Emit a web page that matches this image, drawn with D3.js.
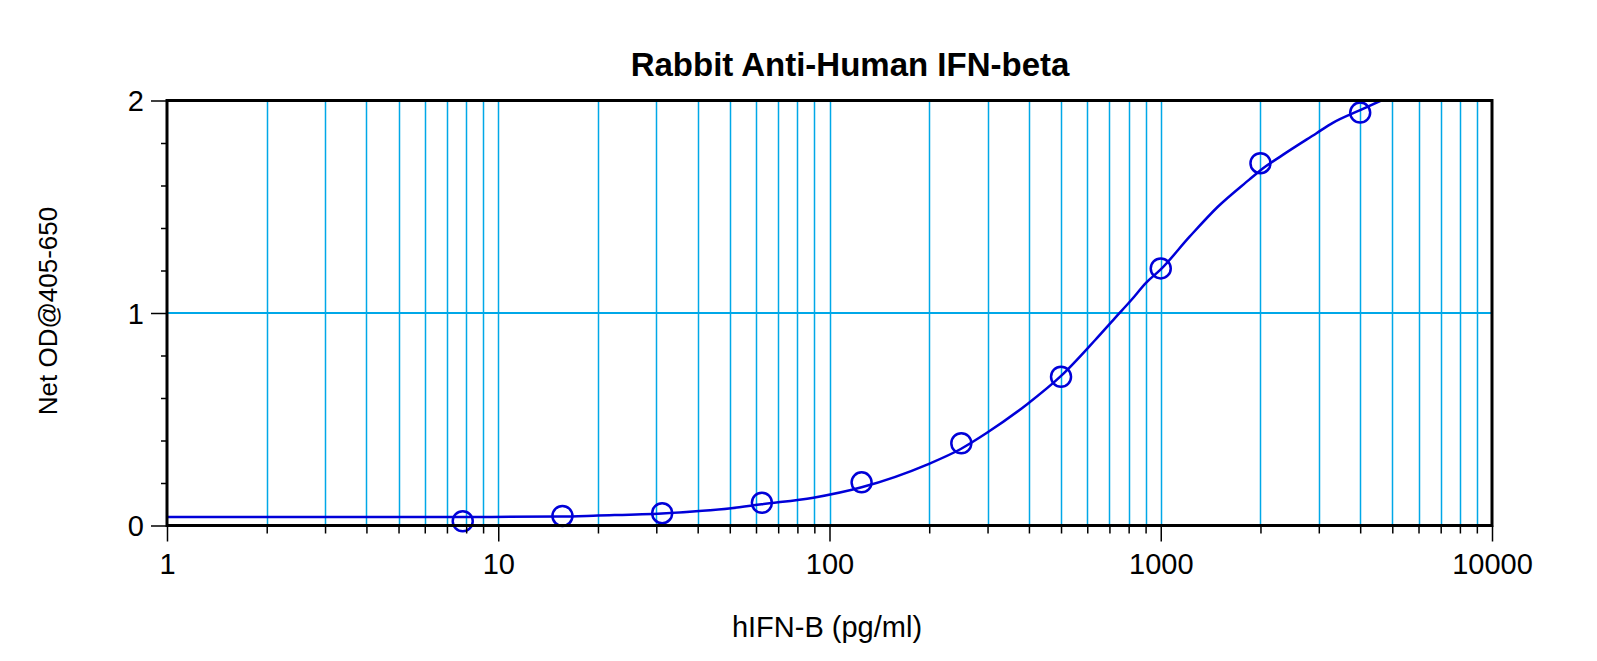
<!DOCTYPE html>
<html>
<head>
<meta charset="utf-8">
<script src="https://cdn.jsdelivr.net/npm/d3@7/dist/d3.min.js"></script>
<style>
  html, body { margin: 0; padding: 0; background: #fff; }
  svg { display: block; }
  text { font-family: "Liberation Sans", Arial, sans-serif; fill: #000; }
</style>
</head>
<body>
<svg id="chart" width="1597" height="661"></svg>
<script>
// ---- data ----
const chartTitle = "Rabbit Anti-Human IFN-beta";
const xTitle = "hIFN-B (pg/ml)";
const yTitle = "Net OD@405-650";

const concentrations = [7.8125, 15.625, 31.25, 62.5, 125, 250, 500, 1000, 2000, 4000];
const odValues       = [0.02,   0.045,  0.058, 0.107, 0.203, 0.387, 0.70, 1.21, 1.705, 1.943];

// fitted curve
const fitX = [1, 3, 7.8, 15.3, 20, 31.2, 50.5, 62.4, 89.4, 125, 198, 249, 298, 396, 501, 634, 726, 815, 904, 1000, 1222, 1487, 1854, 2000, 2336, 2946, 3307, 4000, 4627];
const fitY = [0.040, 0.040, 0.040, 0.042, 0.047, 0.057, 0.081, 0.100, 0.131, 0.180, 0.288, 0.360, 0.435, 0.572, 0.705, 0.873, 0.975, 1.061, 1.143, 1.205, 1.359, 1.50, 1.629, 1.672, 1.744, 1.845, 1.895, 1.955, 2.0];

const xTickValues = [1, 10, 100, 1000, 10000];
const xTickLabels = ["1", "10", "100", "1000", "10000"];
const yTickValues = [0, 1, 2];
const yTickLabels = ["0", "1", "2"];
const yMinorStep = 0.2;

// ---- layout ----
const plot = { left: 167, right: 1492, top: 100.5, bottom: 525.5 };
const gridColor = "#00a8e8";
const curveColor = "#0000d8";

const svg = d3.select("#chart");
const x = d3.scaleLog().domain([1, 10000]).range([plot.left, plot.right]);
const y = d3.scaleLinear().domain([0, 2]).range([plot.bottom, plot.top]);

// minor x values (2..9 per decade, plus decades inside)
const xMinor = [];
for (let d = 1; d < 10000; d *= 10) {
  for (let m = 1; m <= 9; m++) {
    const v = d * m;
    if (v > 1 && v < 10000) xMinor.push(v);
  }
}
const yMinor = d3.range(0, 2.0001, yMinorStep).filter(v => !yTickValues.some(t => Math.abs(t - v) < 1e-6));

// vertical gridlines
svg.append("g").selectAll("line").data(xMinor).join("line")
  .attr("x1", d => Math.round(x(d)) + 0.5).attr("x2", d => Math.round(x(d)) + 0.5)
  .attr("y1", plot.top).attr("y2", plot.bottom)
  .attr("stroke", gridColor).attr("stroke-width", 1.5);

// horizontal gridline at 1
svg.append("g").selectAll("line").data(yTickValues.filter(v => v > 0 && v < 2)).join("line")
  .attr("x1", plot.left).attr("x2", plot.right)
  .attr("y1", d => y(d)).attr("y2", d => y(d))
  .attr("stroke", gridColor).attr("stroke-width", 2);

// clip
svg.append("clipPath").attr("id", "clip").append("rect")
  .attr("x", plot.left).attr("y", plot.top)
  .attr("width", plot.right - plot.left).attr("height", plot.bottom - plot.top);

// fitted curve
const fitData = fitX.map((v, i) => [v, fitY[i]]);
svg.append("path").datum(fitData)
  .attr("clip-path", "url(#clip)")
  .attr("fill", "none").attr("stroke", curveColor).attr("stroke-width", 2.5)
  .attr("d", d3.line().x(d => x(d[0])).y(d => y(d[1])).curve(d3.curveMonotoneX));

// data circles
svg.append("g").selectAll("circle").data(concentrations).join("circle")
  .attr("cx", d => x(d)).attr("cy", (d, i) => y(odValues[i]))
  .attr("r", 10).attr("fill", "none")
  .attr("stroke", curveColor).attr("stroke-width", 2.5);

// ---- axes ----
const xAxisG = svg.append("g").attr("transform", `translate(0,${plot.bottom})`);
xAxisG.call(d3.axisBottom(x).tickValues(xTickValues).tickSize(16)
  .tickFormat((d, i) => xTickLabels[i]));
xAxisG.select(".domain").remove();
xAxisG.selectAll(".tick line").attr("stroke", "#000").attr("stroke-width", 1.5);
xAxisG.selectAll(".tick text").attr("font-size", 29).attr("dy", null).attr("y", 48.5)
  .style("font-family", "'Liberation Sans', Arial, sans-serif");

const xMinorG = svg.append("g").attr("transform", `translate(0,${plot.bottom})`);
xMinorG.call(d3.axisBottom(x).tickValues(xMinor.filter(v => !xTickValues.includes(v))).tickSize(8).tickFormat(""));
xMinorG.select(".domain").remove();
xMinorG.selectAll(".tick line").attr("stroke", "#000").attr("stroke-width", 1.5);

const yAxisG = svg.append("g").attr("transform", `translate(${plot.left},0)`);
yAxisG.call(d3.axisLeft(y).tickValues(yTickValues).tickSize(16)
  .tickFormat((d, i) => yTickLabels[i]));
yAxisG.select(".domain").remove();
yAxisG.selectAll(".tick line").attr("stroke", "#000").attr("stroke-width", 1.5);
yAxisG.selectAll(".tick text").attr("font-size", 29).attr("x", -23).attr("dy", "0.35em")
  .style("font-family", "'Liberation Sans', Arial, sans-serif");

const yMinorG = svg.append("g").attr("transform", `translate(${plot.left},0)`);
yMinorG.call(d3.axisLeft(y).tickValues(yMinor).tickSize(6).tickFormat(""));
yMinorG.select(".domain").remove();
yMinorG.selectAll(".tick line").attr("stroke", "#000").attr("stroke-width", 1.5);

// frame
svg.append("rect")
  .attr("x", plot.left).attr("y", plot.top)
  .attr("width", plot.right - plot.left).attr("height", plot.bottom - plot.top)
  .attr("fill", "none").attr("stroke", "#000").attr("stroke-width", 3);

// titles
svg.append("text").attr("x", 850).attr("y", 76)
  .attr("text-anchor", "middle").attr("font-size", 33).attr("font-weight", "bold")
  .text(chartTitle);

svg.append("text").attr("x", 827).attr("y", 637)
  .attr("text-anchor", "middle").attr("font-size", 29)
  .text(xTitle);

svg.append("text").attr("transform", "translate(57,311) rotate(-90)")
  .attr("text-anchor", "middle").attr("font-size", 26)
  .text(yTitle);
</script>
</body>
</html>
